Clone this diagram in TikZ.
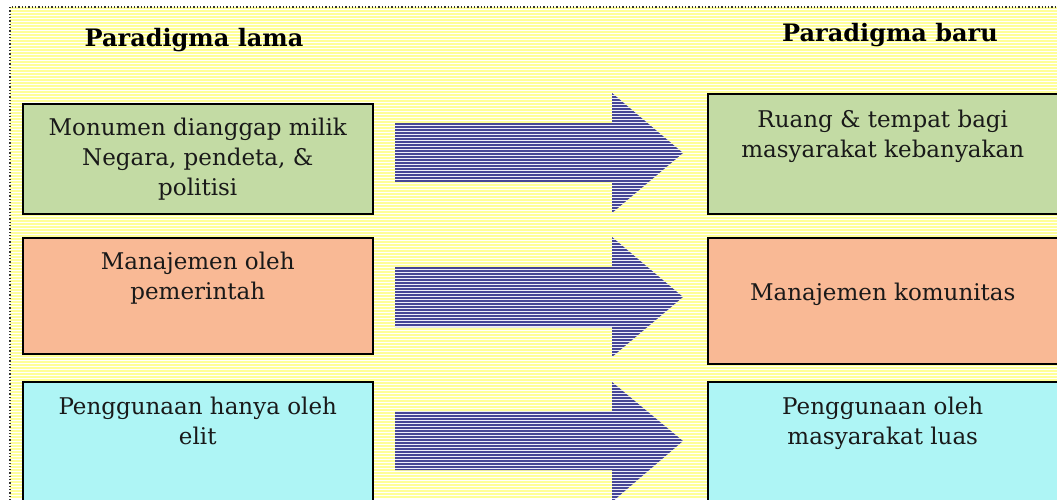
\documentclass[tikz,border=0pt]{standalone}
\usepackage{fontspec}
\setmainfont{DejaVu Serif}
\definecolor{bgyellow}{HTML}{FFFF99}
\definecolor{boxgreen}{HTML}{C3DBA4}
\definecolor{boxorange}{HTML}{F9B995}
\definecolor{boxcyan}{HTML}{AEF5F5}
\definecolor{arrownavy}{HTML}{464696}
\definecolor{arrowlight}{HTML}{EEEEF8}
\definecolor{framegray}{HTML}{333333}
\begin{document}
\begin{tikzpicture}[x=1pt,y=-1pt,
  box/.style={draw=black,line width=1.5pt,anchor=north west,inner sep=0pt,minimum width=350pt},
  boxtext/.style={anchor=north,align=center,font=\fontsize{23}{30}\selectfont,text=black!90,inner sep=0pt},
  title/.style={font=\bfseries\fontsize{24}{28}\selectfont,text=black,inner sep=0pt},
  blockarrow/.style={fill=arrowlight}]
\useasboundingbox (0,0) rectangle (1057,499);
\clip (0,0) rectangle (1057,499);
% background
\fill[white] (0,0) rectangle (1057,499);
\fill[bgyellow] (10,7) rectangle (1057,499);
\foreach \y in {9.5,12.5,...,499} \draw[white,line width=1pt] (10,\y) -- (1057,\y);
\draw[dotted,line width=1.3pt,framegray] (10,510) -- (10,7) -- (1057,7);
% titles
\node[title] (tl) at (194,40) {Paradigma lama};
\node[title] (tr) at (890,35) {Paradigma baru};
% left boxes
\node[box,fill=boxgreen,minimum height=110pt] (l1) at (22,103) {};
\node[box,fill=boxorange,minimum height=116pt] (l2) at (22,237) {};
\node[box,fill=boxcyan,minimum height=140pt] (l3) at (22,381) {};
% right boxes
\node[box,fill=boxgreen,minimum height=120pt] (r1) at (707,93) {};
\node[box,fill=boxorange,minimum height=126pt] (r2) at (707,237) {};
\node[box,fill=boxcyan,minimum height=140pt] (r3) at (707,381) {};
% texts
\node[boxtext] (t1) at ([yshift=-15pt]l1.north) {Monumen dianggap milik\\Negara, pendeta, \&\\politisi};
\node[boxtext] (t2) at ([yshift=-15pt]l2.north) {Manajemen oleh\\pemerintah};
\node[boxtext] (t3) at ([yshift=-16pt]l3.north) {Penggunaan hanya oleh\\elit};
\node[boxtext] (u1) at ([yshift=-17pt]r1.north) {Ruang \& tempat bagi\\masyarakat kebanyakan};
\node[boxtext] (u2) at ([yshift=-46pt]r2.north) {Manajemen komunitas};
\node[boxtext] (u3) at ([yshift=-16pt]r3.north) {Penggunaan oleh\\masyarakat luas};
% block arrows
\foreach \yt/\yb/\ht/\hb/\tip in {123/182/93/213/153, 267/327/237/357/297, 411/470/382/502/441}{
  \begin{scope}
    \path[clip] (395,\yt) -- (612,\yt) -- (612,\ht) -- (683,\tip) -- (612,\hb) -- (612,\yb) -- (395,\yb) -- cycle;
    \fill[arrowlight] (390,\ht) rectangle (690,\hb);
    \foreach \k in {0,3,...,120} \draw[arrownavy,line width=1.1pt] (390,\ht+\k+1) -- (690,\ht+\k+1);
  \end{scope}
}
\end{tikzpicture}
\end{document}
